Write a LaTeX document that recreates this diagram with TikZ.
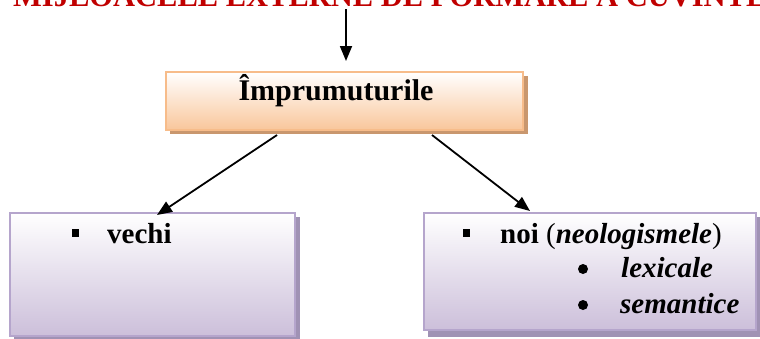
\documentclass[tikz,border=0pt]{standalone}
\usepackage{fontspec}
\setmainfont{Liberation Serif}
\usetikzlibrary{arrows.meta}
\definecolor{titlered}{HTML}{C00000}
\definecolor{peach}{HTML}{F9C69B}
\definecolor{peachborder}{HTML}{F7BC8A}
\definecolor{peachshadow}{HTML}{C9976E}
\definecolor{lilac}{HTML}{CCBFDA}
\definecolor{lilacborder}{HTML}{B5A5CC}
\definecolor{lilacshadow}{HTML}{A092B4}
\tikzset{
  x=1pt, y=-1pt,
  conn/.style={line width=1.8pt, -{Triangle[length=15pt,width=12pt]}},
  peachbox/.style={draw=peachborder, line width=1.2pt, top color=white, bottom color=peach},
  peachshd/.style={fill=peachshadow, draw=none},
  lilacbox/.style={draw=lilacborder, line width=1.2pt, top color=white, bottom color=lilac},
  lilacshd/.style={fill=lilacshadow, draw=none},
  txt/.style={inner sep=0pt, anchor=base west, font=\fontsize{29}{34}\selectfont},
  sqbullet/.style={fill=black, draw=none, minimum width=7pt, minimum height=8pt, inner sep=0pt},
  rdbullet/.style={fill=black, draw=none, circle, minimum size=10pt, inner sep=0pt},
}
\begin{document}
\begin{tikzpicture}
\clip (0,0) rectangle (760,338);
\useasboundingbox (0,0) rectangle (760,338);
% title
\node[inner sep=0pt, anchor=base west, text=titlered, font=\fontsize{30.5}{36}\selectfont\bfseries] (title) at (13,6) {MIJLOACELE EXTERNE DE FORMARE A CUVINTELOR};
% top box
\fill[peachshd] (170,76) rectangle (528,134);
\node[peachbox, minimum width=357pt, minimum height=58pt, inner sep=0pt] (top) at (344.5,101) {};
\node[txt, anchor=base, font=\fontsize{30}{36}\selectfont\bfseries] (imp) at (336,100) {Împrumuturile};
% left box
\fill[lilacshd] (14,217) rectangle (300,341);
\node[lilacbox, minimum width=285pt, minimum height=123pt, inner sep=0pt] (left) at (152.5,274.5) {};
\node[sqbullet] (b1) at (75.5,232.5) {};
\node[txt, font=\fontsize{29}{34}\selectfont\bfseries] (vechi) at (107,243) {vechi};
% right box
\fill[lilacshd] (428,217) rectangle (762,337);
\node[lilacbox, minimum width=332pt, minimum height=117pt, inner sep=0pt] (right) at (590,271.5) {};
\node[sqbullet] (b2) at (466.5,232.5) {};
\node[txt] (noi) at (500,243) {\textbf{noi} (\textbf{\textit{neologismele}})};
\node[rdbullet] (b3) at (583,269) {};
\node[txt, font=\fontsize{29}{34}\selectfont\bfseries\itshape] (lex) at (621,277) {lexicale};
\node[rdbullet] (b4) at (583,305) {};
\node[txt, font=\fontsize{29}{34}\selectfont\bfseries\itshape] (sem) at (620,313) {semantice};
% connectors
\coordinate (a0) at (346,9);
\coordinate (a1) at (346,61);
\draw[conn] (a0) -- (a1);
\coordinate (l0) at (277,135);
\coordinate (l1) at (157,215);
\draw[conn] (l0) -- (l1);
\coordinate (r0) at (432,135);
\coordinate (r1) at (530,211);
\draw[conn] (r0) -- (r1);
\end{tikzpicture}
\end{document}
